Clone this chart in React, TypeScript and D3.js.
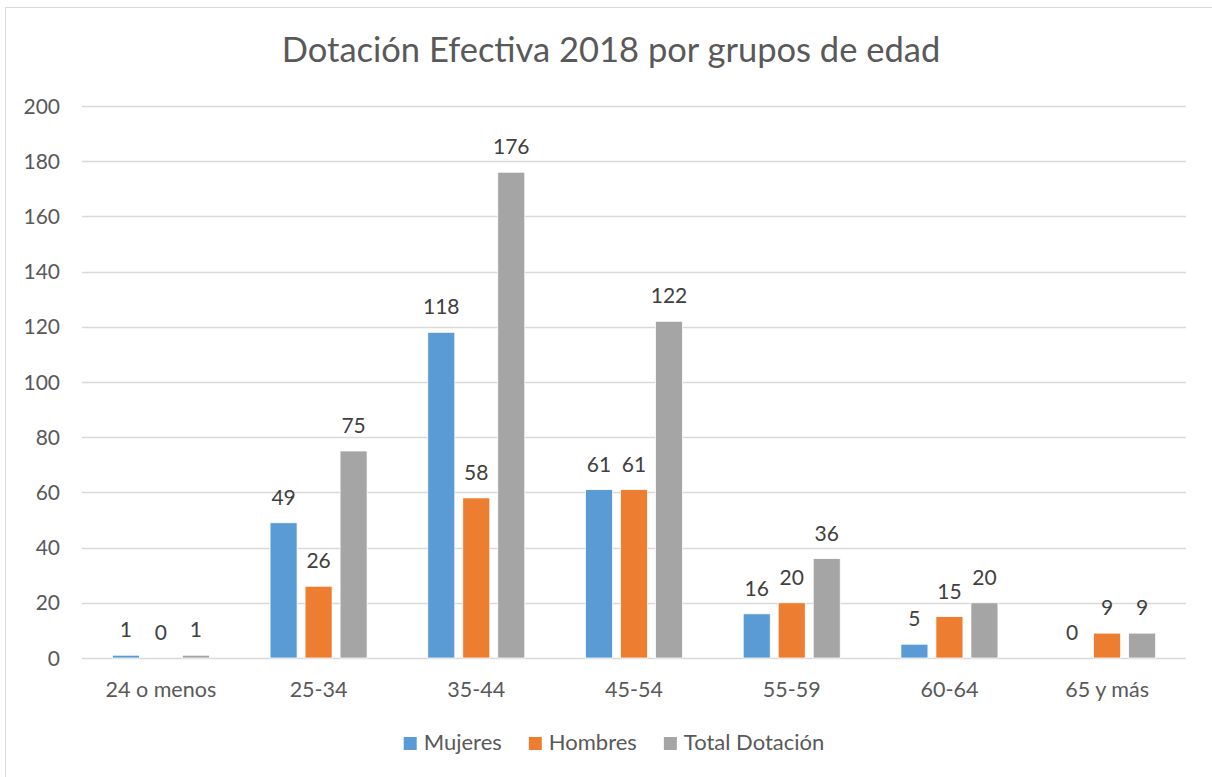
import React, { useEffect, useRef } from "react";
import * as d3 from "d3";

const categories = ["24 o menos", "25-34", "35-44", "45-54", "55-59", "60-64", "65 y más"];
const seriesNames = ["Mujeres", "Hombres", "Total Dotación"];
const mujeres = [1, 49, 118, 61, 16, 5, 0];
const hombres = [0, 26, 58, 61, 20, 15, 9];
const total = [1, 75, 176, 122, 36, 20, 9];
const seriesColors = ["#5B9BD5", "#ED7D31", "#A5A5A5"];
const yTicks = [0, 20, 40, 60, 80, 100, 120, 140, 160, 180, 200];
const title = "Dotación Efectiva 2018 por grupos de edad";

const W = 1212;
const H = 777;
const FONT = "Lato, 'Open Sans', sans-serif";
const TEXT = "#595959";

export default function App() {
  const ref = useRef<SVGSVGElement>(null);

  useEffect(() => {
    const svg = d3.select(ref.current);
    svg.selectAll("*").remove();

    const left = 82, right = 1186, top = 106, bottom = 658;

    svg.append("rect").attr("x", 5.5).attr("y", 7.5).attr("width", W + 10).attr("height", H + 10)
      .attr("fill", "#fff").attr("stroke", "#D9D9D9").attr("stroke-width", 1);

    svg.append("text").attr("x", 611).attr("y", 62).attr("text-anchor", "middle")
      .attr("font-family", FONT).attr("font-size", 34.5).attr("fill", TEXT).text(title);

    const y = d3.scaleLinear().domain([0, 200]).range([bottom, top]);
    const x0 = d3.scaleBand().domain(categories).range([left, right]).paddingInner(0).paddingOuter(0);
    const groupW = 27 * 3 + 8 * 2;
    const x1 = d3.scaleBand().domain(seriesNames).range([0, groupW]).paddingInner(8 / 35).paddingOuter(0);

    const grid = svg.append("g");
    yTicks.forEach((t) => {
      grid.append("line").attr("x1", left).attr("x2", right).attr("y1", Math.round(y(t)) + 0.5).attr("y2", Math.round(y(t)) + 0.5)
        .attr("stroke", "#D9D9D9").attr("stroke-width", 1.3);
      grid.append("text").attr("x", 60).attr("y", y(t)).attr("dy", "0.36em").attr("text-anchor", "end")
        .attr("font-family", FONT).attr("font-size", 21).attr("fill", TEXT).text(String(t));
    });

    const data = [mujeres, hombres, total];
    categories.forEach((c, i) => {
      const gx = (x0(c) as number) + x0.bandwidth() / 2 - groupW / 2;
      data.forEach((vals, s) => {
        const v = vals[i];
        const bx = gx + (x1(seriesNames[s]) as number);
        const bw = x1.bandwidth();
        if (v > 0) {
          svg.append("rect").attr("x", bx).attr("y", y(v)).attr("width", bw).attr("height", y(0) - y(v))
            .attr("fill", seriesColors[s]).attr("stroke", "#fff").attr("stroke-width", 0.75);
        }
        svg.append("text").attr("x", bx + bw / 2).attr("y", y(v) - 18).attr("text-anchor", "middle")
          .attr("font-family", FONT).attr("font-size", 21).attr("fill", "#404040").text(String(v));
      });
      svg.append("text").attr("x", (x0(c) as number) + x0.bandwidth() / 2).attr("y", 697).attr("text-anchor", "middle")
        .attr("font-family", FONT).attr("font-size", 21.5).attr("fill", TEXT).text(c);
    });

    // legend
    const lg = svg.append("g");
    const items: { w: number; g: any }[] = [];
    seriesNames.forEach((n, i) => {
      const g = lg.append("g");
      g.append("rect").attr("x", 0).attr("y", 737).attr("width", 13).attr("height", 13).attr("fill", seriesColors[i]);
      const t = g.append("text").attr("x", 20).attr("y", 750).attr("font-family", FONT).attr("font-size", 22)
        .attr("fill", TEXT).text(n);
      const tw = (t.node() as SVGTextElement).getComputedTextLength();
      items.push({ w: 20 + tw, g });
    });
    const gap = 27;
    const totalW = d3.sum(items, (d) => d.w) + gap * (items.length - 1);
    let cx = 614 - totalW / 2;
    items.forEach((it) => {
      it.g.attr("transform", `translate(${cx},0)`);
      cx += it.w + gap;
    });
  }, []);

  return <svg ref={ref} width={W} height={H} style={{ display: "block", position: "absolute", left: 0, top: 0 }} />;
}
